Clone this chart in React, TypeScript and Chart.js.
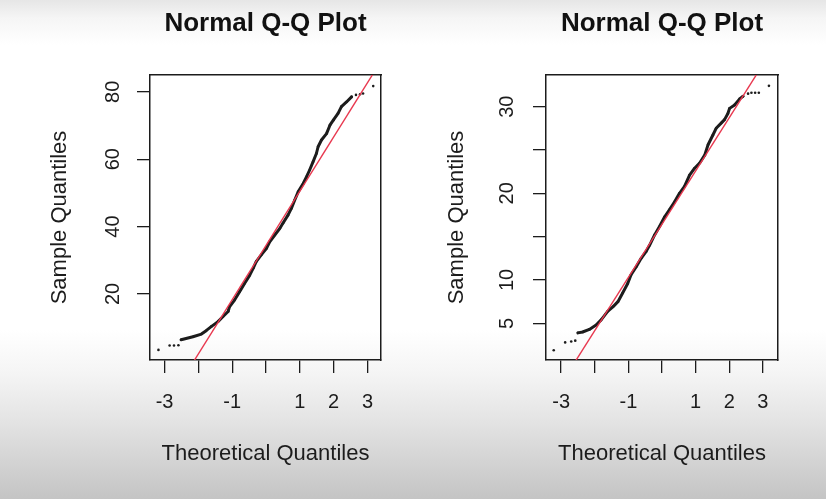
import React, { useEffect, useRef } from "react";
import { Chart, registerables } from "chart.js";

Chart.register(...registerables);

// ---------- text ----------
const plotTitle = "Normal Q-Q Plot";
const xAxisTitle = "Theoretical Quantiles";
const yAxisTitle = "Sample Quantiles";

// ---------- ticks ----------
const xTicks = [-3, -2, -1, 0, 1, 2, 3];
const xTickLabels = ["-3", "", "-1", "", "1", "2", "3"];

const leftYTicks = [20, 40, 60, 80];
const leftYTickLabels = ["20", "40", "60", "80"];

const rightYTicks = [5, 10, 15, 20, 25, 30];
const rightYTickLabels = ["5", "10", "", "20", "", "30"];

// ---------- left panel data ----------
const leftTheoretical = [
  -3.18, -2.85, -2.72, -2.59, -2.51, -2.16, -1.91, -1.77, -1.62, -1.42, -1.27, -1.12,
  -1.08, -0.93, -0.78, -0.63, -0.48, -0.38, -0.29, -0.14, 0.01, 0.11, 0.26, 0.41,
  0.5, 0.65, 0.75, 0.85, 0.95, 1.1, 1.2, 1.29, 1.39, 1.49, 1.54, 1.64, 1.79, 1.89,
  1.99, 2.13, 2.23, 2.38, 2.53, 2.66, 2.78, 2.87, 3.17,
];
const leftSample = [
  3.4, 4.7, 4.7, 4.8, 6.4, 7.3, 8.1, 9.1, 10.3, 11.8, 13.3, 14.8,
  16.2, 18.2, 20.7, 23.2, 25.6, 27.6, 29.6, 31.6, 33.5, 35.5, 37.5, 39.5,
  41.0, 43.4, 45.4, 47.9, 50.3, 52.8, 54.8, 56.8, 59.2, 61.7, 63.7, 65.7, 67.6, 70.1,
  71.6, 73.6, 75.6, 77.0, 78.5, 79.1, 79.3, 79.5, 81.7,
];
const leftDenseRange = [4, 42];
const leftQQLine = [34.4, 16.1]; // intercept, slope
const leftXRange = [-3.43, 3.4];
const leftYRange = [0.4, 85.0];

// ---------- right panel data ----------
const rightTheoretical = [
  -3.22, -2.88, -2.7, -2.58, -2.5, -2.36, -2.16, -1.96, -1.81, -1.61, -1.46, -1.31,
  -1.17, -1.02, -0.92, -0.77, -0.62, -0.47, -0.37, -0.22, -0.07, 0.08, 0.22, 0.37,
  0.52, 0.67, 0.82, 0.97, 1.12, 1.27, 1.37, 1.51, 1.61, 1.76, 1.86, 1.96, 2.01, 2.16,
  2.31, 2.41, 2.56, 2.66, 2.77, 2.88, 3.18,
];
const rightSample = [
  1.9, 2.8, 2.9, 3.0, 3.9, 4.0, 4.3, 4.8, 5.4, 6.4, 6.9, 7.5,
  8.5, 9.6, 10.6, 11.5, 12.5, 13.3, 14.0, 15.2, 16.2, 17.3, 18.1, 19.0,
  20.0, 20.8, 22.1, 22.9, 23.5, 24.4, 25.6, 26.7, 27.5, 28.1, 28.5, 29.2, 29.8, 30.2,
  30.9, 31.2, 31.5, 31.6, 31.6, 31.6, 32.4,
];
const rightDenseRange = [4, 39];
const rightQQLine = [16.44, 6.14]; // intercept, slope
const rightXRange = [-3.45, 3.45];
const rightYRange = [0.77, 33.65];

// ---------- styling ----------
const FONT = "'Liberation Sans', Arial, Helvetica, sans-serif";
const INK = "#1c1c1c";
const RED = "#e8384f";
const H = 499;

type PanelCfg = {
  left: number;
  width: number;
  theo: number[];
  sample: number[];
  dense: number[];
  qq: number[];
  xRange: number[];
  yRange: number[];
  yTicks: number[];
  yTickLabels: string[];
  yAxisWidth: number;
  rightPad: number;
  yTitlePad: number;
  yTickPad: number;
};

function QQPanel({ cfg }: { cfg: PanelCfg }) {
  const ref = useRef<HTMLCanvasElement>(null);
  useEffect(() => {
    const canvas = ref.current!;
    const points = cfg.theo.map((x, i) => ({ x, y: cfg.sample[i] }));
    const body = points.slice(cfg.dense[0], cfg.dense[1] + 1);
    const ends = [cfg.xRange[0] - 1, cfg.xRange[1] + 1];
    const qqLine = ends.map((x) => ({ x, y: cfg.qq[0] + cfg.qq[1] * x }));

    const chart = new Chart(canvas, {
      type: "scatter",
      data: {
        datasets: [
          {
            data: qqLine,
            showLine: true,
            borderColor: RED,
            borderWidth: 1.4,
            pointRadius: 0,
          },
          {
            data: body,
            showLine: true,
            borderColor: INK,
            borderWidth: 3,
            borderJoinStyle: "round",
            borderCapStyle: "round",
            pointRadius: 0,
          },
          {
            data: points,
            showLine: false,
            pointRadius: 1.3,
            pointBackgroundColor: INK,
            pointBorderWidth: 0,
          },
        ],
      },
      options: {
        responsive: false,
        animation: false,
        events: [],
        layout: { padding: { left: 0, right: cfg.rightPad, top: 0, bottom: 0 } },
        plugins: {
          legend: { display: false },
          tooltip: { enabled: false },
          title: {
            display: true,
            text: plotTitle,
            fullSize: false,
            color: "#111",
            font: { family: FONT, size: 26, weight: "bold" },
            padding: { top: 8, bottom: 35.8 },
          },
        },
        scales: {
          x: {
            type: "linear",
            position: "bottom",
            min: cfg.xRange[0],
            max: cfg.xRange[1],
            afterBuildTicks: (s: any) => {
              s.ticks = xTicks.map((v) => ({ value: v }));
            },
            afterFit: (s: any) => {
              s.height = 139;
            },
            ticks: {
              autoSkip: false,
              maxRotation: 0,
              minRotation: 0,
              padding: 17.8,
              color: INK,
              font: { family: FONT, size: 20 },
              callback: (v: any) => {
                const i = xTicks.indexOf(Number(v));
                return i >= 0 ? xTickLabels[i] : "";
              },
            },
            grid: {
              display: true,
              drawOnChartArea: false,
              drawTicks: true,
              tickLength: 13,
              color: INK,
              lineWidth: 1.3,
            },
            border: { display: true, color: INK, width: 1.5 },
            title: {
              display: true,
              text: xAxisTitle,
              color: INK,
              font: { family: FONT, size: 22 },
              padding: { top: 0, bottom: 31.9 },
            },
          },
          y: {
            type: "linear",
            position: "left",
            min: cfg.yRange[0],
            max: cfg.yRange[1],
            afterBuildTicks: (s: any) => {
              s.ticks = cfg.yTicks.map((v) => ({ value: v }));
            },
            afterFit: (s: any) => {
              s.width = cfg.yAxisWidth;
            },
            ticks: {
              autoSkip: false,
              minRotation: 90,
              maxRotation: 90,
              crossAlign: "center",
              padding: cfg.yTickPad,
              color: INK,
              font: { family: FONT, size: 20 },
              callback: (v: any) => {
                const i = cfg.yTicks.indexOf(Number(v));
                return i >= 0 ? cfg.yTickLabels[i] : "";
              },
            },
            grid: {
              display: true,
              drawOnChartArea: false,
              drawTicks: true,
              tickLength: 13,
              color: INK,
              lineWidth: 1.3,
            },
            border: { display: true, color: INK, width: 1.5 },
            title: {
              display: true,
              text: yAxisTitle,
              color: INK,
              font: { family: FONT, size: 22 },
              padding: { top: cfg.yTitlePad, bottom: 0 },
            },
          },
          x2: {
            type: "linear",
            position: "top",
            display: true,
            grid: { display: false, drawTicks: false },
            ticks: { display: false },
            border: { display: true, color: INK, width: 1.5 },
            afterFit: (s: any) => {
              s.height = 0;
            },
          },
          y2: {
            type: "linear",
            position: "right",
            display: true,
            grid: { display: false, drawTicks: false },
            ticks: { display: false },
            border: { display: true, color: INK, width: 1.5 },
            afterFit: (s: any) => {
              s.width = 0;
            },
          },
        },
      } as any,
    });
    return () => chart.destroy();
  }, [cfg]);

  return (
    <canvas
      ref={ref}
      width={cfg.width}
      height={H}
      style={{ position: "absolute", left: cfg.left, top: 0, width: cfg.width, height: H }}
    />
  );
}

const leftCfg: PanelCfg = {
  left: 0,
  width: 413,
  theo: leftTheoretical,
  sample: leftSample,
  dense: leftDenseRange,
  qq: leftQQLine,
  xRange: leftXRange,
  yRange: leftYRange,
  yTicks: leftYTicks,
  yTickLabels: leftYTickLabels,
  yAxisWidth: 150,
  rightPad: 32,
  yTitlePad: 46.8,
  yTickPad: 12.1,
};

const rightCfg: PanelCfg = {
  left: 413,
  width: 413,
  theo: rightTheoretical,
  sample: rightSample,
  dense: rightDenseRange,
  qq: rightQQLine,
  xRange: rightXRange,
  yRange: rightYRange,
  yTicks: rightYTicks,
  yTickLabels: rightYTickLabels,
  yAxisWidth: 133,
  rightPad: 48,
  yTitlePad: 30.3,
  yTickPad: 14.8,
};

export default function App() {
  return (
    <div
      style={{
        position: "fixed",
        left: 0,
        top: 0,
        width: 826,
        height: H,
        overflow: "hidden",
        background:
          "linear-gradient(to bottom, #e6e6e6 0px, #f5f5f5 18px, #ffffff 45px, #ffffff 330px, #f5f5f5 372px, #e4e4e4 420px, #d2d2d2 465px, #c4c4c4 499px)",
      }}
    >
      <QQPanel cfg={leftCfg} />
      <QQPanel cfg={rightCfg} />
    </div>
  );
}
